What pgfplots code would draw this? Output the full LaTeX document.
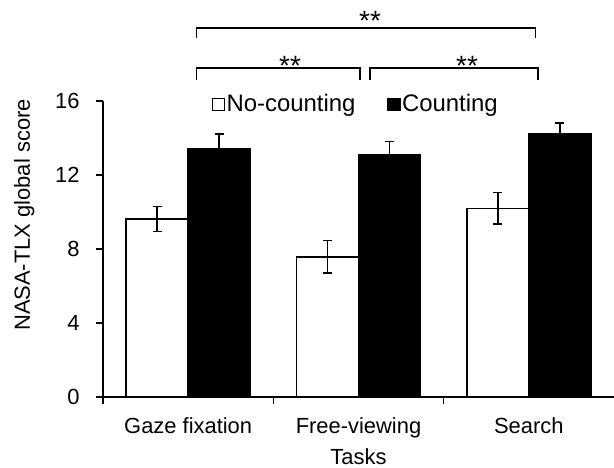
\documentclass[border=0pt]{standalone}
\usepackage{fontspec}
\setmainfont{Liberation Sans}
\usepackage{pgfplots}
\pgfplotsset{compat=1.18}
\begin{document}
\fontsize{22}{26}\selectfont
\begin{tikzpicture}
\begin{axis}[
  scale only axis, width=511bp, height=296bp,
  xmin=-0.5, xmax=2.5, ymin=0, ymax=16,
  ytick={0,4,...,16},
  xtick={0,1,2}, xticklabels={Gaze fixation, Free-viewing, Search},
  major x tick style={draw=none},
  minor xtick={-0.5,0.5,1.5},
  axis x line*=bottom, axis y line*=left,
  axis line style={line width=1.5pt, -},
  tick align=outside, tick style={black, line width=1.5pt},
  major tick length=7bp, minor tick length=7bp,
  ybar=0pt, bar width=62bp,
  xlabel={Tasks}, ylabel={NASA-TLX global score},
  ticklabel style={font=\fontsize{22}{26}\selectfont},
  yticklabel style={xshift=-9bp},
  xticklabel style={yshift=-6bp},
  label style={font=\fontsize{22}{26}\selectfont},
  xlabel style={at={(axis description cs:0.5,-0.2)}, anchor=center},
  ylabel style={at={(axis description cs:-0.154,0.615)}, anchor=center},
  /pgf/number format/assume math mode=true,
  clip=false,
  legend image code/.code={\draw[#1, line width=1.5pt] (0bp,-6bp) rectangle (12bp,6bp);},
  legend style={draw=none, fill=none, at={(0.494,0.988)}, anchor=center,
    legend columns=2, font=\fontsize{24}{28}\selectfont,
    nodes={inner sep=1.5bp},
    /tikz/every even column/.append style={column sep=30bp}},
]
\addplot[fill=white, draw=black, line width=1.5pt,
  error bars/.cd, y dir=both, y explicit,
  error bar style={line width=1.5pt, black},
  error mark options={rotate=90, mark size=4.5bp, line width=1.5pt, black}]
  coordinates {(0,9.62) +- (0,0.67) (1,7.58) +- (0,0.88) (2,10.20) +- (0,0.85)};
\addplot[fill=black, draw=black, line width=1.5pt,
  error bars/.cd, y dir=plus, y explicit,
  error bar style={line width=1.5pt, black},
  error mark options={rotate=90, mark size=4.5bp, line width=1.5pt, black}]
  coordinates {(0,13.44) +- (0,0.78) (1,13.08) +- (0,0.74) (2,14.25) +- (0,0.55)};
\legend{No-counting, Counting}
\draw[line width=1.5pt] (axis cs:0.05,19.4) |- (axis cs:2.04,19.95) -- (axis cs:2.04,19.4);
\draw[line width=1.5pt] (axis cs:0.05,17.14) |- (axis cs:1.01,17.78) -- (axis cs:1.01,17.14);
\draw[line width=1.5pt] (axis cs:1.068,17.14) |- (axis cs:2.054,17.78) -- (axis cs:2.054,17.14);
\node[font=\fontsize{28}{32}\selectfont, anchor=base, inner sep=0pt] at (axis cs:1.068,19.8) {**};
\node[font=\fontsize{28}{32}\selectfont, anchor=base, inner sep=0pt] at (axis cs:0.598,17.4) {**};
\node[font=\fontsize{28}{32}\selectfont, anchor=base, inner sep=0pt] at (axis cs:1.637,17.4) {**};
\end{axis}
\pgfresetboundingbox
\path (current axis.south west) ++(-103bp,-71bp) rectangle ++(614bp,468bp);
\end{tikzpicture}
\end{document}
